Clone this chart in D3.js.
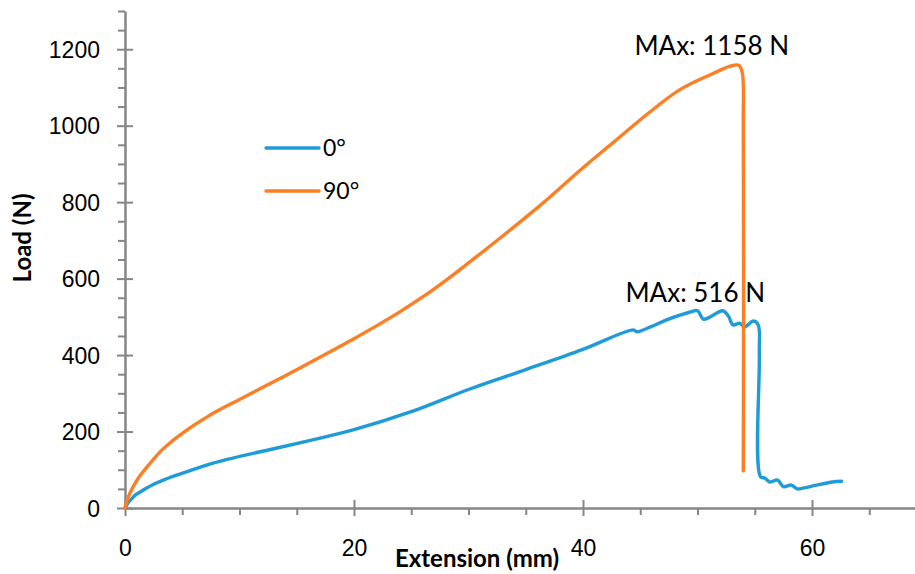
<!DOCTYPE html>
<html>
<head>
<meta charset="utf-8">
<script src="https://cdn.jsdelivr.net/npm/d3@7"></script>
<style>
  body { margin: 0; background: #fff; }
  svg { display: block; font-family: Lato, "Open Sans", sans-serif; }
</style>
</head>
<body>
<div id="chart"></div>
<script>
// Load vs extension
const ext0 = [0, 0.3, 0.7, 1.0, 1.6, 2.5, 3.5, 4.5, 6, 7.4, 10.3, 13, 16.2, 20, 25, 30, 35, 40, 44.4, 44.7, 46, 47.3, 49.3, 50.0, 50.5, 51.0, 52.2, 52.7, 53.1, 53.7, 54.1, 54.9, 55.3, 55.4, 55.5, 55.9, 56.3, 57.0, 57.5, 58.2, 58.7, 59.2, 60.4, 61.8, 62.6];
const load0 = [0, 15, 28, 36, 47, 62, 75, 86, 101, 115, 137, 155, 177, 205, 252, 310, 362, 415, 466, 461, 475, 492, 512, 516, 494, 498, 516, 502, 479, 483, 474, 489, 479, 400, 82, 78, 68, 73, 56, 60, 50, 52, 60, 68, 70];

const ext90 = [0, 0.3, 0.7, 1.2, 2, 3, 4, 5, 6, 7, 8, 10, 12, 14, 16, 18, 20, 22, 24, 26, 28, 30, 32, 34, 36, 38, 40, 42.6, 45.6, 48.5, 51.4, 52.8, 53.6, 53.9, 54.0, 54.0];
const load90 = [0, 30, 55, 80, 110, 145, 172, 195, 216, 235, 253, 284, 315, 346, 378, 410, 443, 477, 513, 552, 595, 641, 688, 736, 785, 837, 890, 955, 1030, 1095, 1137, 1155, 1158, 1140, 1000, 97];

const seriesNames = ['0°', '90°'];
const seriesColors = ['#1f9bd8', '#fd7e23'];

const xMajor = [0, 20, 40, 60];
const yMajor = [0, 200, 400, 600, 800, 1000, 1200];

const peakLabels = [
  { text: 'MAx: 1158 N', ext: 58.0, load: 1186 },
  { text: 'MAx: 516 N', ext: 55.9, load: 540 }
];

const width = 915;
const height = 574;
const axisColor = '#868686';

const x = d3.scaleLinear().domain([0, 70]).range([125, 926.5]);
const y = d3.scaleLinear().domain([0, 1300]).range([508, 11]);

const svg = d3.select('#chart').append('svg')
  .attr('width', width)
  .attr('height', height);

// minor ticks, outside only
const xMinor = d3.range(0, 71, 5).filter(v => v % 20 !== 0);
const yMinor = d3.range(0, 1301, 50).filter(v => v % 200 !== 0);

svg.append('g')
  .attr('transform', `translate(0,${y(0)})`)
  .call(d3.axisBottom(x).tickValues(xMinor).tickSize(7).tickFormat(''))
  .call(g => g.select('.domain').remove())
  .call(g => g.selectAll('line').attr('stroke', axisColor).attr('stroke-width', 2));

svg.append('g')
  .attr('transform', `translate(${x(0)},0)`)
  .call(d3.axisLeft(y).tickValues(yMinor).tickSize(7).tickFormat(''))
  .call(g => g.select('.domain').remove())
  .call(g => g.selectAll('line').attr('stroke', axisColor).attr('stroke-width', 2));

// major ticks cross the axis
const gx = svg.append('g')
  .attr('transform', `translate(0,${y(0)})`)
  .call(d3.axisBottom(x).tickValues(xMajor).tickSize(8).tickSizeOuter(0));
gx.select('.domain').attr('stroke', axisColor).attr('stroke-width', 2.5);
gx.selectAll('.tick line').attr('y1', -8).attr('y2', 8).attr('stroke', axisColor).attr('stroke-width', 2);
gx.selectAll('.tick text')
  .attr('y', 48).attr('dy', 0)
  .attr('fill', '#000')
  .style('font-size', '23px');

const gy = svg.append('g')
  .attr('transform', `translate(${x(0)},0)`)
  .call(d3.axisLeft(y).tickValues(yMajor).tickSize(8).tickSizeOuter(0).tickFormat(d3.format('d')));
gy.select('.domain').attr('stroke', axisColor).attr('stroke-width', 2.5);
gy.selectAll('.tick line').attr('x1', 8).attr('x2', -8).attr('stroke', axisColor).attr('stroke-width', 2);
gy.selectAll('.tick text')
  .attr('x', -25).attr('dy', '0.36em')
  .attr('fill', '#000')
  .style('font-size', '23px');

// axis titles
svg.append('text')
  .attr('x', 477).attr('y', 567)
  .attr('text-anchor', 'middle')
  .style('font-size', '24px').style('font-weight', 'bold')
  .text('Extension (mm)');

svg.append('text')
  .attr('transform', 'translate(31,238) rotate(-90)')
  .attr('text-anchor', 'middle')
  .style('font-size', '24px').style('font-weight', 'bold')
  .text('Load (N)');

// curves
const line = d3.line()
  .curve(d3.curveCatmullRom.alpha(0.5))
  .x(d => x(d[0]))
  .y(d => y(d[1]));
const series = [
  d3.zip(ext0, load0),
  d3.zip(ext90, load90)
];

svg.selectAll('.curve')
  .data(series)
  .join('path')
  .attr('class', 'curve')
  .attr('d', line)
  .attr('fill', 'none')
  .attr('stroke', (d, i) => seriesColors[i])
  .attr('stroke-width', 3.4)
  .attr('stroke-linejoin', 'round')
  .attr('stroke-linecap', 'round');

// peak annotations
svg.selectAll('.peak')
  .data(peakLabels)
  .join('text')
  .attr('class', 'peak')
  .attr('x', d => x(d.ext))
  .attr('y', d => y(d.load))
  .attr('text-anchor', 'end')
  .style('font-size', '26px')
  .text(d => d.text);

// legend
const legend = svg.append('g').attr('transform', 'translate(266,148)');
const item = legend.selectAll('g')
  .data(seriesNames)
  .join('g')
  .attr('transform', (d, i) => `translate(0,${i * 43})`);
item.append('line')
  .attr('x1', 0).attr('x2', 53)
  .attr('stroke', (d, i) => seriesColors[i])
  .attr('stroke-width', 3.4)
  .attr('stroke-linecap', 'round');
item.append('text')
  .attr('x', 57).attr('dy', '0.36em')
  .style('font-size', '23px')
  .text(d => d);
</script>
</body>
</html>
